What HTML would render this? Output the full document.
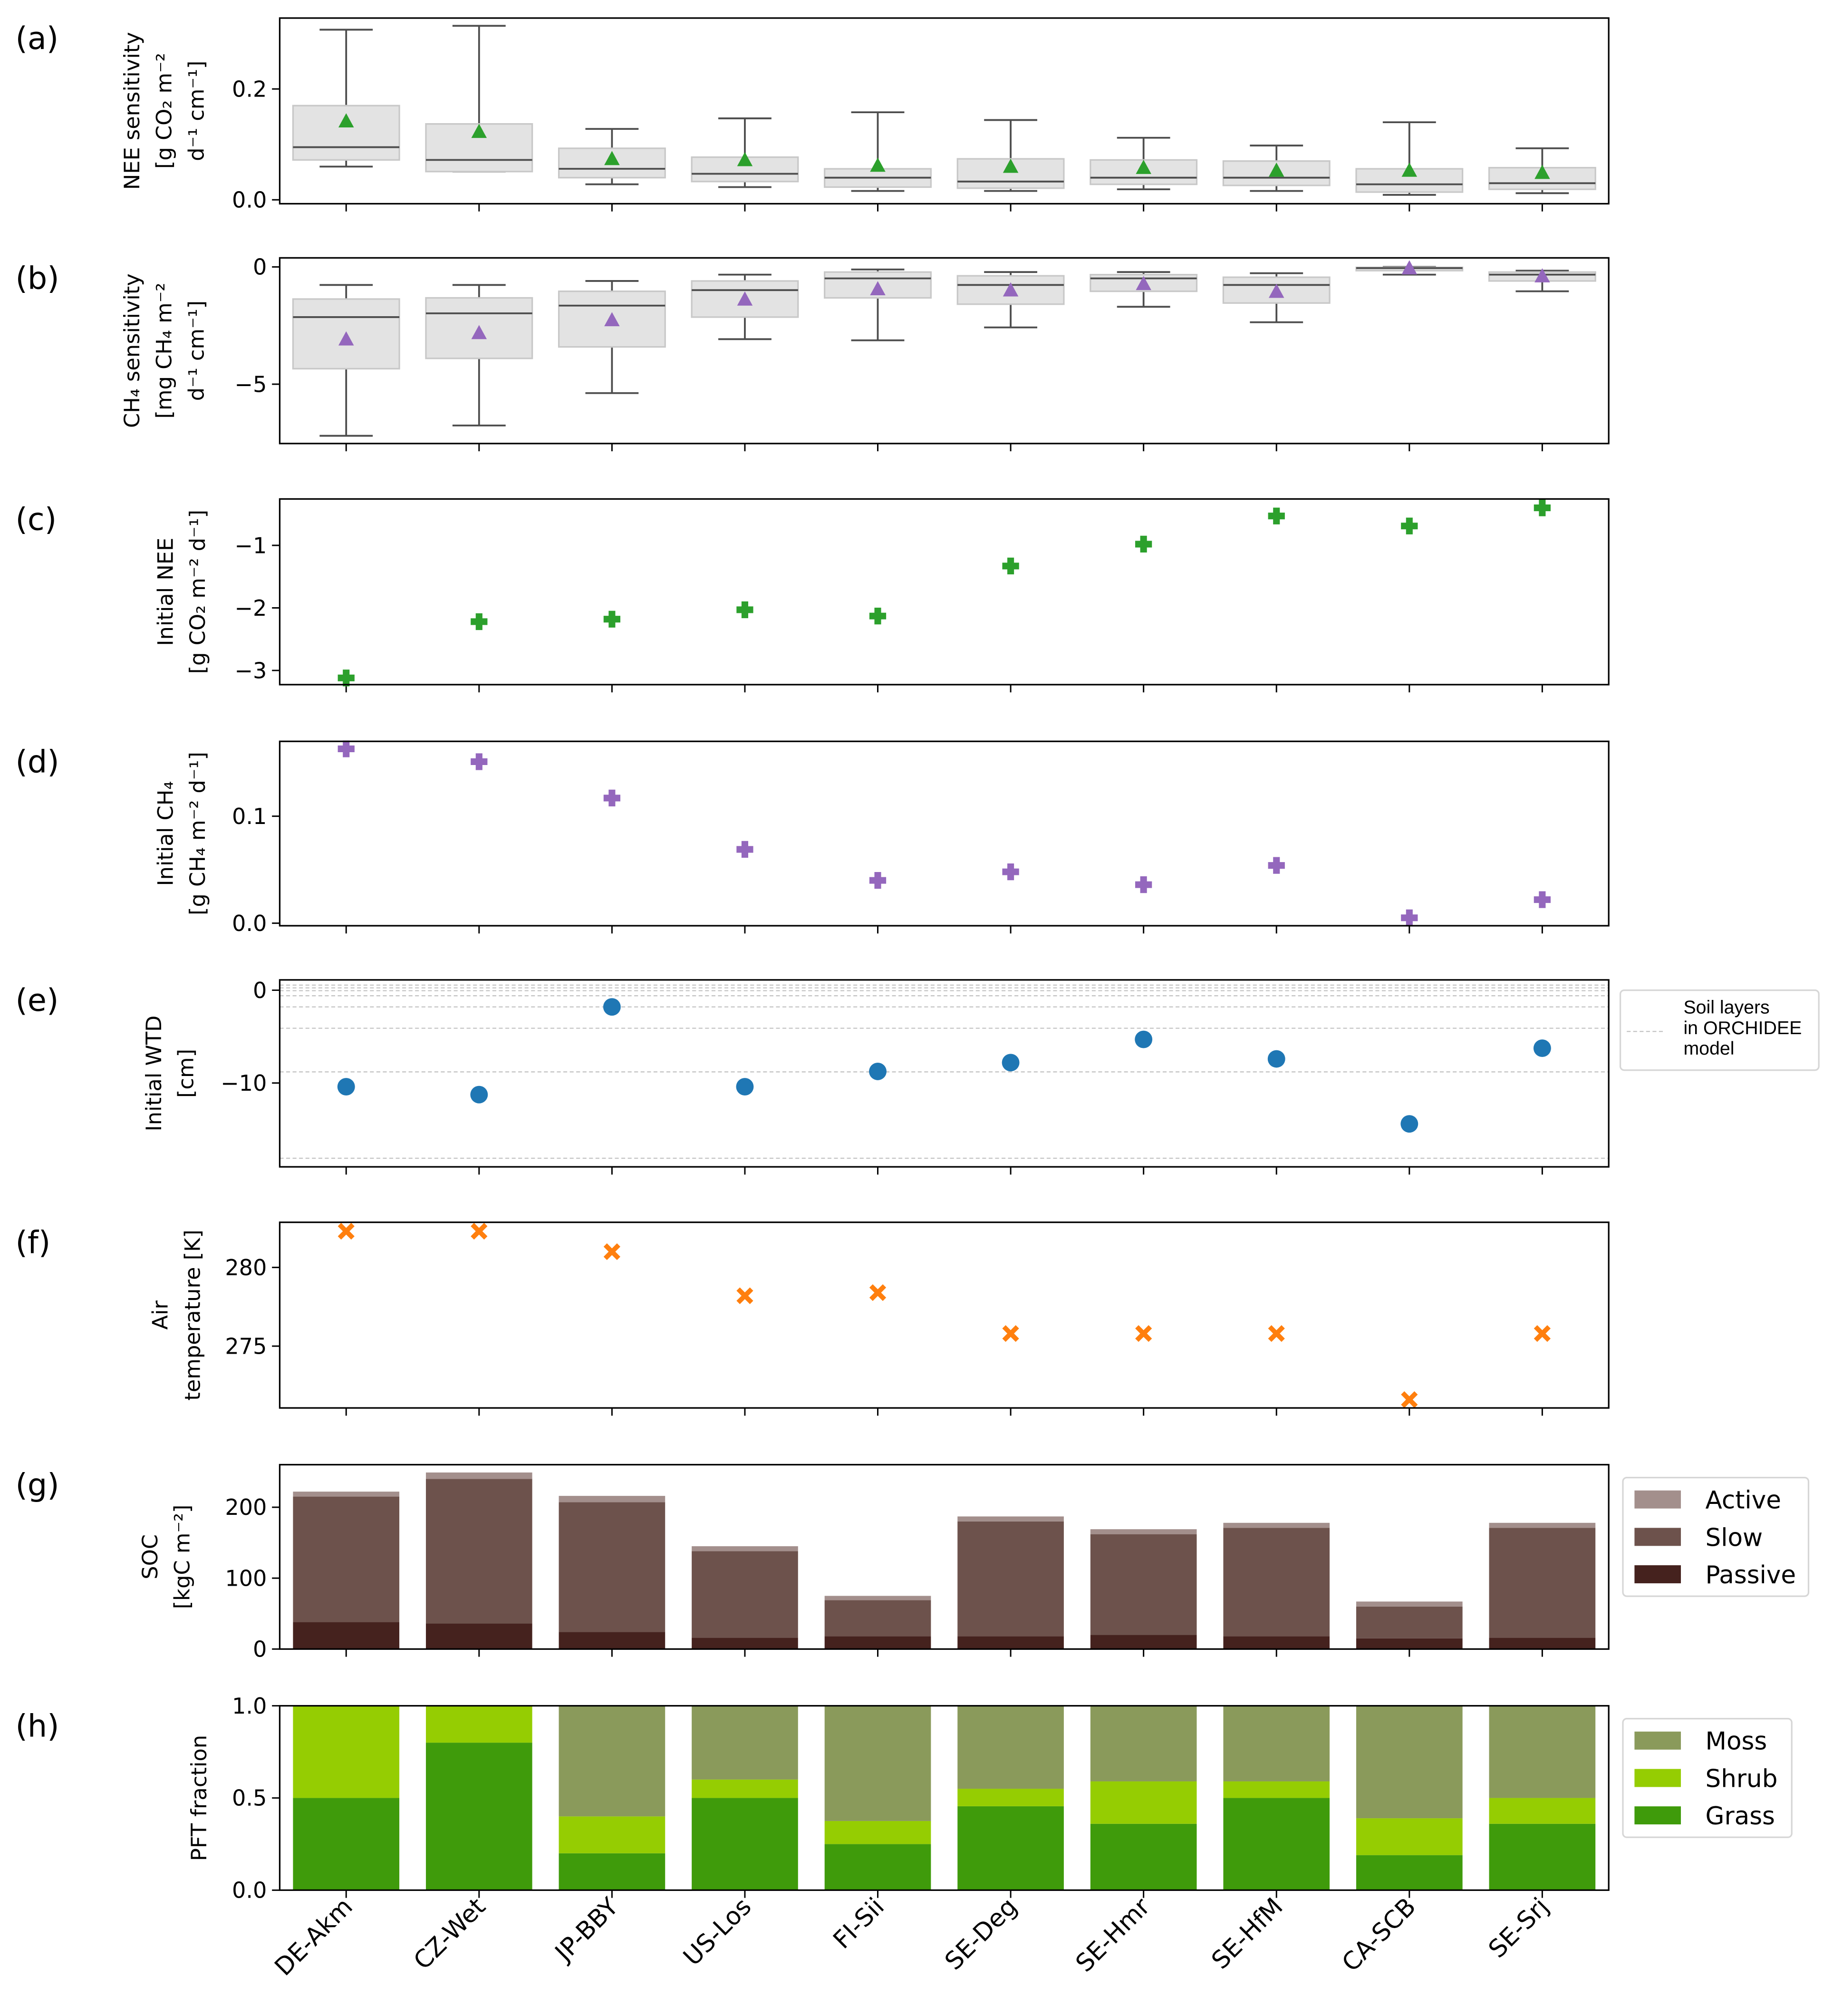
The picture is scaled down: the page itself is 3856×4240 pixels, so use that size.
<!DOCTYPE html>
<html><head><meta charset="utf-8">
<style>
html,body{margin:0;padding:0;background:#fff;}
svg{display:block;font-family:"DejaVu Sans","Liberation Sans",sans-serif;}
</style></head>
<body>
<svg id="fig" xmlns="http://www.w3.org/2000/svg" width="3856" height="4240" viewBox="0 0 1422 1563.6">
<rect x="0" y="0" width="1422" height="1563.6" fill="#fff"/>
</svg>
<script>
const sites = ["DE-Akm","CZ-Wet","JP-BBY","US-Los","FI-Sii","SE-Deg","SE-Hmr","SE-HfM","CA-SCB","SE-Srj"];
// (a) NEE sensitivity boxes
const neeLo  = [0.060,0.051,0.028,0.023,0.016,0.016,0.019,0.016,0.009,0.012];
const neeQ1  = [0.072,0.051,0.040,0.033,0.023,0.021,0.028,0.026,0.014,0.019];
const neeMed = [0.095,0.072,0.056,0.047,0.040,0.033,0.040,0.040,0.028,0.030];
const neeQ3  = [0.170,0.137,0.093,0.077,0.056,0.074,0.072,0.070,0.056,0.058];
const neeHi  = [0.307,0.314,0.128,0.147,0.158,0.144,0.112,0.098,0.140,0.093];
const neeMean= [0.140,0.121,0.072,0.070,0.060,0.058,0.056,0.051,0.051,0.047];
// (b) CH4 sensitivity boxes
const chLo  = [-7.2,-6.76,-5.38,-3.08,-3.13,-2.58,-1.70,-2.36,-0.33,-1.04];
const chQ1  = [-4.34,-3.90,-3.41,-2.14,-1.32,-1.59,-1.04,-1.54,-0.16,-0.60];
const chMed = [-2.14,-1.98,-1.65,-0.99,-0.49,-0.77,-0.49,-0.77,-0.05,-0.33];
const chQ3  = [-1.37,-1.32,-1.04,-0.60,-0.22,-0.38,-0.33,-0.44,-0.02,-0.22];
const chHi  = [-0.77,-0.77,-0.60,-0.33,-0.11,-0.22,-0.22,-0.27,0.0,-0.16];
const chMean= [-3.13,-2.86,-2.31,-1.43,-0.99,-1.04,-0.77,-1.10,-0.10,-0.44];
// (c)-(f) point series
const initNEE = [-3.12,-2.22,-2.18,-2.03,-2.13,-1.33,-0.98,-0.53,-0.69,-0.40];
const initCH4 = [0.163,0.151,0.117,0.069,0.040,0.048,0.036,0.054,0.005,0.022];
const initWTD = [-10.4,-11.25,-1.8,-10.4,-8.75,-7.8,-5.3,-7.4,-14.4,-6.25];
const soilLayers = [0.55,0.25,-0.05,-0.6,-1.8,-4.1,-8.8,-18.1];
const airT = [282.3,282.3,281.0,278.2,278.4,275.8,275.8,275.8,271.6,275.8];
// (g) SOC stacks
const socPassive = [38,36,24,16,18,18,20,18,15,16];
const socSlow    = [177,204,183,122,51,162,142,153,45,155];
const socActive  = [7,9,9,7,6,7,7,7,7,7];
// (h) PFT fractions
const pftGrass = [0.5,0.8,0.2,0.5,0.25,0.455,0.36,0.5,0.19,0.36];
const pftShrub = [0.5,0.2,0.2,0.1,0.125,0.095,0.23,0.09,0.2,0.14];
const pftMoss  = [0.0,0.0,0.6,0.4,0.625,0.45,0.41,0.41,0.61,0.5];

const NS="http://www.w3.org/2000/svg";
const svg=document.getElementById('fig');
function mk(tag,attrs,parent){const e=document.createElementNS(NS,tag);for(const k in attrs)e.setAttribute(k,attrs[k]);(parent||svg).appendChild(e);return e;}
const X0=217,X1=1248,STEP=(X1-X0)/10;
function xs(i){return X0+(i+0.5)*STEP;}
function yScale(top,bot,vTop,vBot){return v=>top+(vTop-v)/(vTop-vBot)*(bot-top);}

const panels={
 a:{top:14,bot:158,vt:0.328,vb:-0.007,ticks:[0,0.2],fmt:v=>v.toFixed(1)},
 b:{top:200,bot:344,vt:0.385,vb:-7.53,ticks:[0,-5],fmt:v=>v===0?"0":"\u2212"+Math.abs(v)},
 c:{top:387,bot:531,vt:-0.258,vb:-3.227,ticks:[-1,-2,-3],fmt:v=>"\u2212"+Math.abs(v)},
 d:{top:575,bot:718,vt:0.170,vb:-0.0024,ticks:[0,0.1],fmt:v=>v.toFixed(1)},
 e:{top:760,bot:905,vt:1.11,vb:-19.03,ticks:[0,-10],fmt:v=>v===0?"0":"\u2212"+Math.abs(v)},
 f:{top:948,bot:1092,vt:282.87,vb:271.07,ticks:[280,275],fmt:v=>String(v)},
 g:{top:1136,bot:1279,vt:260,vb:0,ticks:[0,100,200],fmt:v=>String(v)},
 h:{top:1323,bot:1466,vt:1,vb:0,ticks:[0,0.5,1],fmt:v=>v.toFixed(1)}
};
const ylabels={
 a:{lines:["NEE sensitivity","[g CO\u2082 m\u207b\u00b2","d\u207b\u00b9 cm\u207b\u00b9]"],xs:[108,133,158]},
 b:{lines:["CH\u2084 sensitivity","[mg CH\u2084 m\u207b\u00b2","d\u207b\u00b9 cm\u207b\u00b9]"],xs:[108,133,158]},
 c:{lines:["Initial NEE","[g CO\u2082 m\u207b\u00b2 d\u207b\u00b9]"],xs:[134,159]},
 d:{lines:["Initial CH\u2084","[g CH\u2084 m\u207b\u00b2 d\u207b\u00b9]"],xs:[134,159]},
 e:{lines:["Initial WTD","[cm]"],xs:[125,150]},
 f:{lines:["Air","temperature [K]"],xs:[130,155]},
 g:{lines:["SOC","[kgC m\u207b\u00b2]"],xs:[122,147]},
 h:{lines:["PFT fraction"],xs:[160]}
};
const Y={};
for(const k in panels){
 const p=panels[k];
 const g=mk('g',{});
 
 
 p.g=g; p.y=yScale(p.top,p.bot,p.vt,p.vb); Y[k]=p.y;
 const lt=mk('text',{x:12,y:p.top+24,'font-size':24,fill:'#000'},g);
 lt.textContent='('+k+')';
 
 
 const yl=ylabels[k];const cy=(p.top+p.bot)/2;
 yl.lines.forEach((s,j)=>{
  const t=mk('text',{x:yl.xs[j],y:cy,'font-size':16.5,'text-anchor':'middle',transform:`rotate(-90 ${yl.xs[j]} ${cy})`},g);
  t.textContent=s;
  
  
 });
 p.ticks.forEach(v=>{
  const yy=p.y(v);
  mk('line',{x1:X0-6,x2:X0,y1:yy,y2:yy,stroke:'#000','stroke-width':1.1},g);
  const t=mk('text',{x:X0-10,y:yy+6,'font-size':17,'text-anchor':'end'},g);
  t.textContent=p.fmt(v);
  
  
 });
 for(let i=0;i<10;i++) mk('line',{x1:xs(i),x2:xs(i),y1:p.bot,y2:p.bot+6,stroke:'#000','stroke-width':1.1},g);
}
function frame(k){const p=panels[k];const r=mk('rect',{x:X0,y:p.top,width:X1-X0,height:p.bot-p.top,fill:'none',stroke:'#000','stroke-width':1.2},p.g);}

function tri(cx,cy,col,g){return mk('path',{d:`M${cx} ${cy-7}L${cx+6} ${cy+4}L${cx-6} ${cy+4}Z`,fill:col},g);}
function boxes(k,lo,q1,md,q3,hi,mean,col){
 const p=panels[k],y=p.y,w=STEP*0.8;
 for(let i=0;i<10;i++){
  const cx=xs(i);
  const grp=mk('g',{},p.g);
  
  
  mk('line',{x1:cx,x2:cx,y1:y(hi[i]),y2:y(q3[i]),stroke:'#4d4d4d','stroke-width':1.4},grp);
  mk('line',{x1:cx,x2:cx,y1:y(q1[i]),y2:y(lo[i]),stroke:'#4d4d4d','stroke-width':1.4},grp);
  mk('line',{x1:cx-w/4,x2:cx+w/4,y1:y(hi[i]),y2:y(hi[i]),stroke:'#4d4d4d','stroke-width':1.4},grp);
  mk('line',{x1:cx-w/4,x2:cx+w/4,y1:y(lo[i]),y2:y(lo[i]),stroke:'#4d4d4d','stroke-width':1.4},grp);
  mk('rect',{x:cx-w/2,y:y(q3[i]),width:w,height:Math.max(0.5,y(q1[i])-y(q3[i])),fill:'#e3e3e3',stroke:'#c8c8c8','stroke-width':1.2},grp);
  mk('line',{x1:cx-w/2,x2:cx+w/2,y1:y(md[i]),y2:y(md[i]),stroke:'#4d4d4d','stroke-width':1.4},grp);
  const m=tri(cx,y(mean[i]),col,grp);
  
  
 }
}
boxes('a',neeLo,neeQ1,neeMed,neeQ3,neeHi,neeMean,'#2ca02c');
boxes('b',chLo,chQ1,chMed,chQ3,chHi,chMean,'#9467bd');

function plus(cx,cy,col,g){const a=6.5,b=2.6;return mk('path',{d:`M${cx-b} ${cy-a}H${cx+b}V${cy-b}H${cx+a}V${cy+b}H${cx+b}V${cy+a}H${cx-b}V${cy+b}H${cx-a}V${cy-b}H${cx-b}Z`,fill:col},g);}
function xmark(cx,cy,col,g){const a=6.5,b=2.6;return mk('path',{d:`M${cx-a+b} ${cy-a}L${cx} ${cy-b}L${cx+a-b} ${cy-a}L${cx+a} ${cy-a+b}L${cx+b} ${cy}L${cx+a} ${cy+a-b}L${cx+a-b} ${cy+a}L${cx} ${cy+b}L${cx-a+b} ${cy+a}L${cx-a} ${cy+a-b}L${cx-b} ${cy}L${cx-a} ${cy-a+b}Z`,fill:col},g);}
initNEE.forEach((v,i)=>{const m=plus(xs(i),Y.c(v),'#2ca02c',panels.c.g);});
initCH4.forEach((v,i)=>{const m=plus(xs(i),Y.d(v),'#9467bd',panels.d.g);});
soilLayers.forEach(v=>{const l=mk('line',{x1:X0,x2:X1,y1:Y.e(v),y2:Y.e(v),stroke:'#c0c0c0','stroke-width':0.8,'stroke-dasharray':'3,2'},panels.e.g);});
initWTD.forEach((v,i)=>{const m=mk('circle',{cx:xs(i),cy:Y.e(v),r:6.8,fill:'#1f77b4'},panels.e.g);});
airT.forEach((v,i)=>{const m=xmark(xs(i),Y.f(v),'#ff7f0e',panels.f.g);});

function stack(k,series,cols,names){
 const p=panels[k],w=STEP*0.8;
 for(let i=0;i<10;i++){let base=0;
  series.forEach((s,j)=>{const v=s[i];
   const r=mk('rect',{x:xs(i)-w/2,y:p.y(base+v),width:w,height:p.y(base)-p.y(base+v),fill:cols[j]},p.g);
   
   
   base+=v;});
 }
}
stack('g',[socPassive,socSlow,socActive],['#45221e','#6d524c','#a38f8c'],['passive','slow','active']);
stack('h',[pftGrass,pftShrub,pftMoss],['#3f9b0b','#95cd02','#8a9a5b'],['grass','shrub','moss']);
for(const k in panels) frame(k);

// x labels
sites.forEach((s,i)=>{const cx=xs(i)+6,cy=1480;
 const t=mk('text',{x:cx,y:cy,'font-size':19,'text-anchor':'end',transform:`rotate(-45 ${cx} ${cy})`});
 t.textContent=s;
 
 });

// legends
function legendBox(x,y,w,h,name){const r=mk('rect',{x:x,y:y,width:w,height:h,rx:3,fill:'#fff',stroke:'#d6d6d6','stroke-width':1.2});}
legendBox(1257,768,154,62,'soil-layer-legend');
mk('line',{x1:1262,x2:1290,y1:800,y2:800,stroke:'#c0c0c0','stroke-width':0.8,'stroke-dasharray':'3,2'});
["Soil layers","in ORCHIDEE","model"].forEach((s,j)=>{const t=mk('text',{x:1306,y:786+j*16,'font-size':14.5,'font-family':'"Liberation Sans Narrow","Liberation Sans",sans-serif'});t.textContent=s;});
function legend(x,y,w,items,name){legendBox(x,y,w,92,name);
 items.forEach((it,j)=>{const yy=y+17+j*29;
  mk('rect',{x:x+9,y:yy-7,width:36,height:14,fill:it[1]});
  const t=mk('text',{x:x+64,y:yy+7,'font-size':19});t.textContent=it[0];
  
  });}
legend(1259,1146,144,[["Active","#a38f8c"],["Slow","#6d524c"],["Passive","#45221e"]],'soc-legend');
legend(1259,1333,131,[["Moss","#8a9a5b"],["Shrub","#95cd02"],["Grass","#3f9b0b"]],'pft-legend');
</script>
</body></html>
